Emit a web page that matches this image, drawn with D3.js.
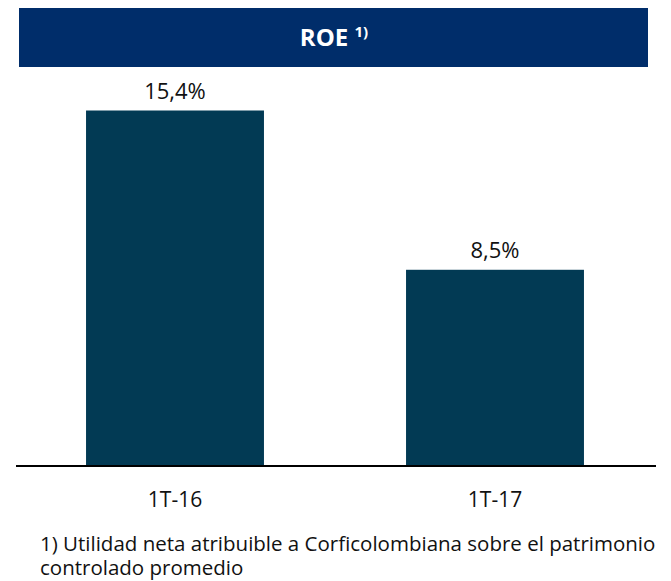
<!DOCTYPE html>
<html>
<head>
<meta charset="utf-8">
<script src="https://cdn.jsdelivr.net/npm/d3@7"></script>
<style>
  body { margin: 0; background: #fff; }
  svg { display: block; font-family: "Open Sans", sans-serif; }
</style>
</head>
<body>
<svg></svg>
<script>
// Data
const periods = ["1T-16", "1T-17"];
const roeValues = [15.4, 8.5];
const valueLabels = ["15,4%", "8,5%"];
const titleText = "ROE";
const titleNote = "1)";
const footnoteLines = [
  "1) Utilidad neta atribuible a Corficolombiana sobre el patrimonio",
  "controlado promedio"
];

const width = 671, height = 581;
const plot = { left: 15, right: 655, base: 466 };

const svg = d3.select("svg")
    .attr("width", width)
    .attr("height", height);

// Title banner
svg.append("rect")
  .attr("x", 19)
  .attr("y", 8)
  .attr("width", 629)
  .attr("height", 59)
  .attr("fill", "#002d6a");

const title = svg.append("text")
  .attr("x", 334)
  .attr("y", 46)
  .attr("text-anchor", "middle")
  .attr("fill", "#fff")
  .attr("font-weight", "bold")
  .style("font-size", "24px");
title.append("tspan").text(titleText + " ");
title.append("tspan")
  .attr("dy", -9)
  .style("font-size", "15px")
  .text(titleNote);

// Scales
const x = d3.scaleBand()
  .domain(periods)
  .range([plot.left, plot.right])
  .paddingInner(0.444)
  .paddingOuter(0.222);

const y = d3.scaleLinear()
  .domain([0, 15.4])
  .range([plot.base, 110.5]);

// Bars
svg.selectAll(".bar")
  .data(roeValues)
  .join("rect")
    .attr("class", "bar")
    .attr("x", (d, i) => x(periods[i]))
    .attr("y", d => y(d))
    .attr("width", x.bandwidth())
    .attr("height", d => y(0) - y(d))
    .attr("fill", "#023a54");

// Value labels
svg.selectAll(".val")
  .data(roeValues)
  .join("text")
    .attr("class", "val")
    .attr("x", (d, i) => x(periods[i]) + x.bandwidth() / 2)
    .attr("y", d => y(d) - 11.5)
    .attr("text-anchor", "middle")
    .attr("fill", "#111")
    .style("font-size", "22px")
    .text((d, i) => valueLabels[i]);

// Baseline
svg.append("line")
  .attr("x1", 16)
  .attr("x2", 656)
  .attr("y1", plot.base)
  .attr("y2", plot.base)
  .attr("stroke", "#000")
  .attr("stroke-width", 2);

// Category labels
svg.selectAll(".cat")
  .data(periods)
  .join("text")
    .attr("class", "cat")
    .attr("x", d => x(d) + x.bandwidth() / 2)
    .attr("y", 507)
    .attr("text-anchor", "middle")
    .attr("fill", "#111")
    .style("font-size", "21px")
    .text(d => d);

// Footnote
svg.selectAll(".note")
  .data(footnoteLines)
  .join("text")
    .attr("class", "note")
    .attr("x", 40)
    .attr("y", (d, i) => 551 + i * 24)
    .attr("fill", "#111")
    .style("font-size", "20.5px")
    .text(d => d);
</script>
</body>
</html>
